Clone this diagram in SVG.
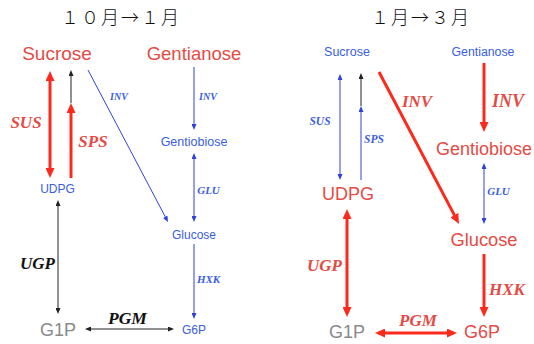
<svg xmlns="http://www.w3.org/2000/svg" width="534" height="344" viewBox="0 0 534 344">
<style>
.t{font-family:"Liberation Sans",Arial,sans-serif;text-anchor:middle}
.e{font-family:"Liberation Serif","Times New Roman",serif;font-weight:bold;font-style:italic;text-anchor:middle}
.title{font-family:"Noto Sans CJK JP","Noto Sans CJK SC",sans-serif;font-size:18px;font-weight:300;letter-spacing:2px;text-anchor:middle;fill:#111}
.rt{fill:#e44b45}
.bt{fill:#3a5ee0}
.gt{fill:#8a8a8a}
.kt{fill:#111}
.rl{stroke:#fb2a1c;stroke-width:3;fill:none}
.bl{stroke:#2f43dc;stroke-width:1;fill:none}
.kl{stroke:#222;stroke-width:1;fill:none}
</style>
<defs>
<marker id="mr" markerUnits="userSpaceOnUse" viewBox="0 0 10 9" markerWidth="10" markerHeight="9" refX="2" refY="4.5" orient="auto-start-reverse"><path d="M0,0 L10,4.5 L0,9 z" fill="#fb2a1c"/></marker>
<marker id="mb" markerUnits="userSpaceOnUse" viewBox="0 0 6 5" markerWidth="6" markerHeight="5" refX="1" refY="2.5" orient="auto-start-reverse"><path d="M0,0 L6,2.5 L0,5 z" fill="#2f43dc"/></marker>
<marker id="mk" markerUnits="userSpaceOnUse" viewBox="0 0 6 5" markerWidth="6" markerHeight="5" refX="1" refY="2.5" orient="auto-start-reverse"><path d="M0,0 L6,2.5 L0,5 z" fill="#222"/></marker>
</defs>

<text class="title" x="121" y="24">１０月→１月</text>
<text class="title" x="421" y="24">１月→３月</text>

<g id="connectors">
<!-- left panel -->
<line class="rl" x1="50" y1="79" x2="50" y2="170" marker-start="url(#mr)" marker-end="url(#mr)"/>
<line class="rl" x1="71" y1="178" x2="71" y2="111" marker-end="url(#mr)"/>
<line class="kl" x1="71" y1="103" x2="71" y2="75" marker-end="url(#mk)"/>
<line class="bl" x1="88" y1="70" x2="165.7" y2="217.6" marker-end="url(#mb)"/>
<line class="bl" x1="194" y1="67" x2="194" y2="125" marker-end="url(#mb)"/>
<line class="bl" x1="194" y1="158" x2="194" y2="217" marker-start="url(#mb)" marker-end="url(#mb)"/>
<line class="bl" x1="194" y1="244" x2="194" y2="314" marker-end="url(#mb)"/>
<line class="kl" x1="58" y1="205" x2="58" y2="309" marker-start="url(#mk)" marker-end="url(#mk)"/>
<line class="kl" x1="90" y1="329" x2="169" y2="329" marker-start="url(#mk)" marker-end="url(#mk)"/>
<!-- right panel -->
<line class="bl" x1="340" y1="79" x2="340" y2="175" marker-start="url(#mb)" marker-end="url(#mb)"/>
<line class="bl" x1="361" y1="180" x2="361" y2="111" marker-end="url(#mb)"/>
<line class="kl" x1="361" y1="106" x2="361" y2="78" marker-end="url(#mk)"/>
<line class="rl" x1="379" y1="72" x2="455.3" y2="216.9" marker-end="url(#mr)"/>
<line class="rl" x1="484" y1="63" x2="484" y2="124" marker-end="url(#mr)"/>
<line class="bl" x1="484" y1="168" x2="484" y2="219" marker-start="url(#mb)" marker-end="url(#mb)"/>
<line class="rl" x1="484" y1="254" x2="484" y2="309" marker-end="url(#mr)"/>
<line class="rl" x1="347" y1="217" x2="347" y2="309" marker-start="url(#mr)" marker-end="url(#mr)"/>
<line class="rl" x1="383" y1="333" x2="449" y2="333" marker-start="url(#mr)" marker-end="url(#mr)"/>
</g>

<g id="labels">
<text class="e rt" x="26" y="128" font-size="17">SUS</text>
<text class="e rt" x="93" y="147" font-size="17">SPS</text>
<text class="e bt" x="119" y="100" font-size="10">INV</text>
<text class="e bt" x="208" y="100" font-size="10">INV</text>
<text class="e bt" x="208.5" y="194" font-size="11">GLU</text>
<text class="e bt" x="208.5" y="283" font-size="11">HXK</text>
<text class="e kt" x="37.5" y="269" font-size="17">UGP</text>
<text class="e kt" x="127.5" y="324" font-size="17.5">PGM</text>
<text class="e bt" x="320" y="125" font-size="11.5">SUS</text>
<text class="e bt" x="374" y="143" font-size="11.5">SPS</text>
<text class="e rt" x="417" y="107" font-size="17">INV</text>
<text class="e rt" x="508" y="107" font-size="18">INV</text>
<text class="e bt" x="498.5" y="195" font-size="11">GLU</text>
<text class="e rt" x="324.5" y="271" font-size="17">UGP</text>
<text class="e rt" x="507" y="295" font-size="17">HXK</text>
<text class="e rt" x="418" y="326" font-size="17">PGM</text>
</g>

<g id="L-Sucrose"><text class="t rt" x="57" y="60" font-size="19">Sucrose</text></g>
<g id="L-Gentianose"><text class="t rt" x="194" y="60" font-size="18.5">Gentianose</text></g>
<g id="L-Gentiobiose"><text class="t bt" x="194" y="146" font-size="12.5">Gentiobiose</text></g>
<g id="L-UDPG"><text class="t bt" x="57.5" y="193" font-size="12">UDPG</text></g>
<g id="L-Glucose"><text class="t bt" x="194" y="239" font-size="12">Glucose</text></g>
<g id="L-G1P"><text class="t gt" x="58" y="336" font-size="18">G1P</text></g>
<g id="L-G6P"><text class="t bt" x="194" y="334" font-size="12">G6P</text></g>

<g id="R-Sucrose"><text class="t bt" x="347" y="56" font-size="12.5">Sucrose</text></g>
<g id="R-Gentianose"><text class="t bt" x="483" y="56" font-size="12.3">Gentianose</text></g>
<g id="R-Gentiobiose"><text class="t rt" x="484" y="155" font-size="18">Gentiobiose</text></g>
<g id="R-UDPG"><text class="t rt" x="348" y="200" font-size="18">UDPG</text></g>
<g id="R-Glucose"><text class="t rt" x="484" y="246" font-size="18.3">Glucose</text></g>
<g id="R-G1P"><text class="t gt" x="347" y="338" font-size="18">G1P</text></g>
<g id="R-G6P"><text class="t rt" x="482" y="338" font-size="18">G6P</text></g>
</svg>
